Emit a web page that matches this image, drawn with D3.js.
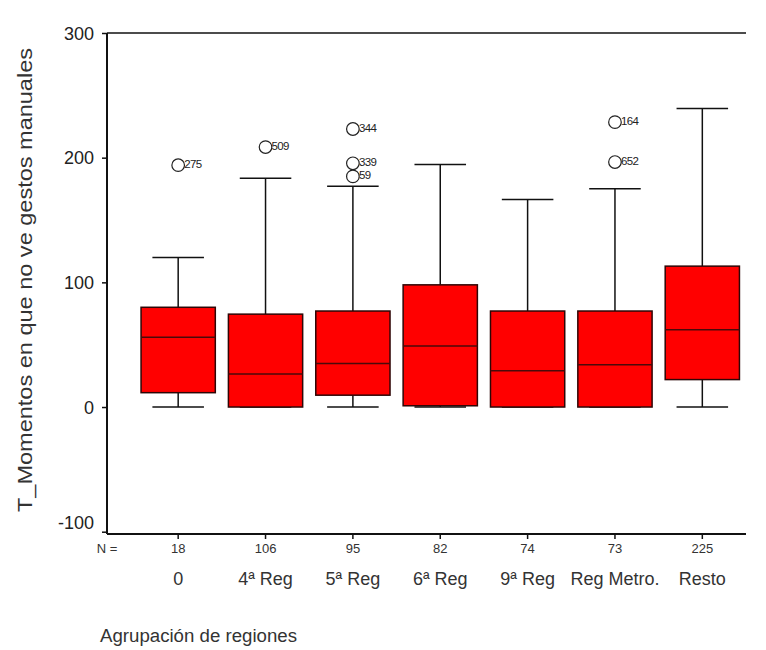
<!DOCTYPE html>
<html>
<head>
<meta charset="utf-8">
<script src="https://cdn.jsdelivr.net/npm/d3@7"></script>
<style>
  html, body { margin: 0; padding: 0; background: #fff; }
  svg { display: block; font-family: "Liberation Sans", Arial, sans-serif; }
</style>
</head>
<body>
<svg id="chart" width="766" height="650"></svg>
<script>
// Box-plot summary per region group
const categories   = ["0", "4ª Reg", "5ª Reg", "6ª Reg", "9ª Reg", "Reg Metro.", "Resto"];
const nCounts      = [18, 106, 95, 82, 74, 73, 225];
const whiskerLow   = [0, 0, 0, 0, 0, 0, 0];
const q1           = [11.5, 0, 9.5, 1, 0, 0, 22];
const median       = [56, 26.5, 35, 49, 29, 34, 62];
const q3           = [80, 74.5, 77, 98, 77, 77, 113];
const whiskerHigh  = [120, 183.5, 177, 194.5, 166.5, 175, 239.5];
const outlierValues = [[194], [208.5], [223, 195.5, 185], [], [], [228.5, 196.5], []];
const outlierIds    = [["275"], ["509"], ["344", "339", "59"], [], [], ["164", "652"], []];
const yTicks = [300, 200, 100, 0, -100];

const svg = d3.select("#chart");

const frame = { left: 107, right: 746, top: 33, bottom: 534 };

const y = d3.scaleLinear().domain([-100, 300]).range([531.7, 33]);
const x = d3.scaleBand().domain(categories).range([134.5, 746]).padding(0);
const step = x.step();
const boxW = step * 0.85;
const capW = step * 0.59;
const cx = c => x(c) + x.bandwidth() / 2;

const groups = categories.map((c, i) => ({
  cat: c, n: nCounts[i], lo: whiskerLow[i], q1: q1[i], med: median[i],
  q3: q3[i], hi: whiskerHigh[i],
  outs: outlierValues[i].map((v, j) => ({ v, id: outlierIds[i][j] }))
}));

// Frame lines: top, left, bottom
svg.append("line").attr("x1", frame.left).attr("x2", frame.right)
  .attr("y1", frame.top).attr("y2", frame.top)
  .attr("stroke", "#111").attr("stroke-width", 1.6);
svg.append("line").attr("x1", frame.left).attr("x2", frame.left)
  .attr("y1", frame.top).attr("y2", frame.bottom)
  .attr("stroke", "#111").attr("stroke-width", 2);
svg.append("line").attr("x1", frame.left).attr("x2", frame.right)
  .attr("y1", frame.bottom).attr("y2", frame.bottom)
  .attr("stroke", "#111").attr("stroke-width", 2);

// Y axis
const yAxis = svg.append("g")
  .attr("transform", `translate(${frame.left},0)`)
  .call(d3.axisLeft(y).tickValues(yTicks).tickFormat(d => String(d))
    .tickSize(5).tickSizeOuter(0).tickPadding(8));
yAxis.select(".domain").remove();
yAxis.selectAll(".tick line").attr("stroke", "#111").attr("stroke-width", 1.5);
yAxis.selectAll(".tick text")
  .attr("fill", "#222")
  .style("font-size", "18px")
  .style("font-family", "'Liberation Sans', Arial, sans-serif")
  .attr("dy", d => d === -100 ? "-0.2em" : "0.35em");

// Y axis title
svg.append("text")
  .attr("transform", "translate(32,280) rotate(-90)")
  .attr("text-anchor", "middle")
  .attr("textLength", 464)
  .attr("lengthAdjust", "spacingAndGlyphs")
  .style("font-size", "20px")
  .attr("fill", "#333")
  .text("T_Momentos en que no ve gestos manuales");

// X ticks and labels
const xg = svg.append("g");
xg.selectAll("line.xt").data(categories).join("line")
  .attr("class", "xt")
  .attr("x1", cx).attr("x2", cx)
  .attr("y1", frame.bottom).attr("y2", frame.bottom + 5)
  .attr("stroke", "#111").attr("stroke-width", 1.5);
xg.selectAll("text.n").data(groups).join("text")
  .attr("class", "n")
  .attr("x", d => cx(d.cat)).attr("y", 553)
  .attr("text-anchor", "middle")
  .style("font-size", "13px").attr("fill", "#333")
  .text(d => d.n);
svg.append("text").attr("x", 107).attr("y", 553)
  .attr("text-anchor", "middle")
  .style("font-size", "13px").attr("fill", "#333")
  .text("N =");
xg.selectAll("text.cat").data(categories).join("text")
  .attr("class", "cat")
  .attr("x", cx).attr("y", 585)
  .attr("text-anchor", "middle")
  .style("font-size", "18px").attr("fill", "#333")
  .text(d => d);

// X axis title
svg.append("text")
  .attr("x", 100).attr("y", 642)
  .attr("textLength", 197)
  .attr("lengthAdjust", "spacingAndGlyphs")
  .style("font-size", "18px").attr("fill", "#333")
  .text("Agrupación de regiones");

// Boxes
const bx = svg.append("g").selectAll("g.box").data(groups).join("g").attr("class", "box");

// whiskers
bx.append("line")
  .attr("x1", d => cx(d.cat)).attr("x2", d => cx(d.cat))
  .attr("y1", d => y(d.q3)).attr("y2", d => y(d.hi))
  .attr("stroke", "#111").attr("stroke-width", 1.5);
bx.append("line")
  .attr("x1", d => cx(d.cat)).attr("x2", d => cx(d.cat))
  .attr("y1", d => y(d.q1)).attr("y2", d => y(d.lo))
  .attr("stroke", "#111").attr("stroke-width", 1.5);
bx.append("line")
  .attr("x1", d => cx(d.cat) - capW / 2).attr("x2", d => cx(d.cat) + capW / 2)
  .attr("y1", d => y(d.hi)).attr("y2", d => y(d.hi))
  .attr("stroke", "#111").attr("stroke-width", 1.5);
bx.append("line")
  .attr("x1", d => cx(d.cat) - capW / 2).attr("x2", d => cx(d.cat) + capW / 2)
  .attr("y1", d => y(d.lo)).attr("y2", d => y(d.lo))
  .attr("stroke", "#111").attr("stroke-width", 1.5);

// box body
bx.append("rect")
  .attr("x", d => cx(d.cat) - boxW / 2)
  .attr("width", boxW)
  .attr("y", d => y(d.q3))
  .attr("height", d => y(d.q1) - y(d.q3))
  .attr("fill", "#ff0000")
  .attr("stroke", "#2e0606").attr("stroke-width", 1.5);

// median
bx.append("line")
  .attr("x1", d => cx(d.cat) - boxW / 2).attr("x2", d => cx(d.cat) + boxW / 2)
  .attr("y1", d => y(d.med)).attr("y2", d => y(d.med))
  .attr("stroke", "#4a0a0a").attr("stroke-width", 1.5);

// outliers with case ids
const outs = bx.selectAll("g.out").data(d => d.outs.map(o => ({ ...o, cat: d.cat }))).join("g").attr("class", "out");
outs.append("circle")
  .attr("cx", d => cx(d.cat)).attr("cy", d => y(d.v)).attr("r", 6.3)
  .attr("fill", "none").attr("stroke", "#222").attr("stroke-width", 1.2);
outs.append("text")
  .attr("x", d => cx(d.cat) + 6).attr("y", d => y(d.v) + 3)
  .style("font-size", "11.5px").style("letter-spacing", "-0.6px")
  .attr("fill", "#222")
  .text(d => d.id);
</script>
</body>
</html>
